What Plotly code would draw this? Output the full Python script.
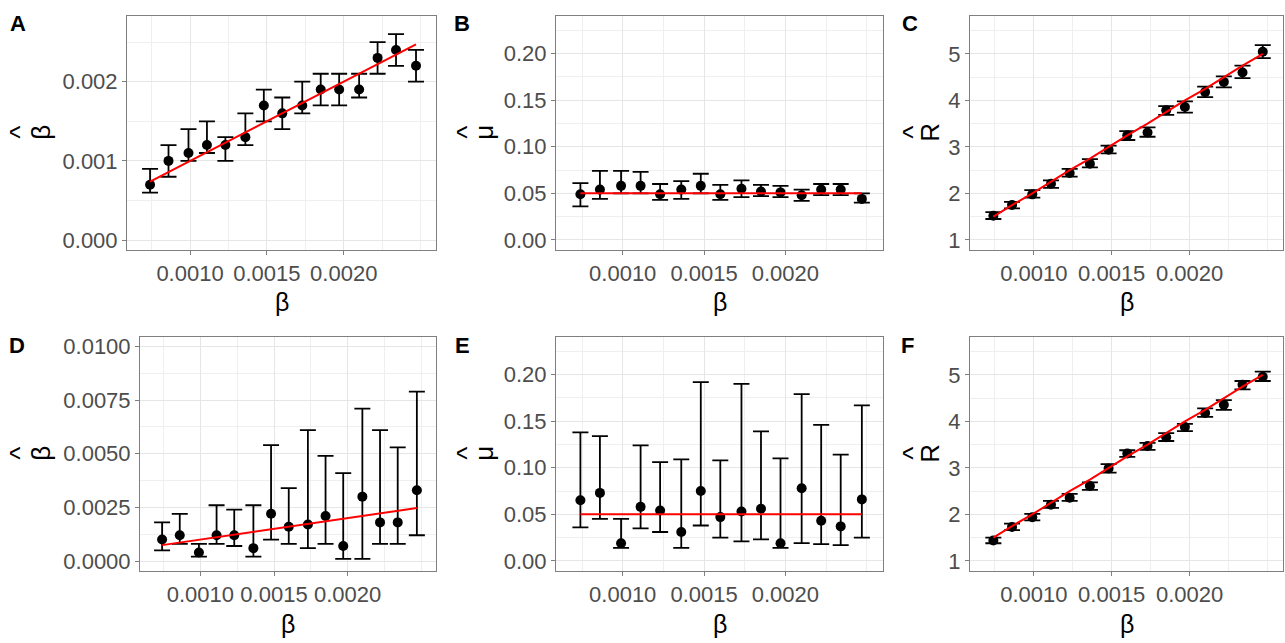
import plotly.graph_objects as go

# True transmission rates used for every simulation set
beta = [0.00074, 0.00086, 0.00099, 0.00111, 0.00123, 0.00136, 0.00148, 0.00160,
        0.00173, 0.00185, 0.00197, 0.00210, 0.00222, 0.00234, 0.00247]
# True reproduction numbers and true mu
R_true = [1.50, 1.75, 2.00, 2.25, 2.50, 2.75, 3.00, 3.25, 3.50, 3.75, 4.00,
          4.25, 4.50, 4.75, 5.00]
mu_true = [0.05] * 15

# Row 1 estimates (point, lower, upper)
A_est = [0.0007, 0.0010, 0.0011, 0.0012, 0.0012, 0.0013, 0.0017, 0.0016,
         0.0017, 0.0019, 0.0019, 0.0019, 0.0023, 0.0024, 0.0022]
A_lo = [0.0006, 0.0008, 0.0010, 0.0011, 0.0010, 0.0012, 0.0015, 0.0014,
        0.0016, 0.0017, 0.0017, 0.0018, 0.0021, 0.0022, 0.0020]
A_hi = [0.0009, 0.0012, 0.0014, 0.0015, 0.0013, 0.0016, 0.0019, 0.0018,
        0.0020, 0.0021, 0.0021, 0.0021, 0.0025, 0.0026, 0.0024]

B_est = [0.049, 0.054, 0.058, 0.058, 0.049, 0.054, 0.058, 0.049,
         0.055, 0.052, 0.051, 0.048, 0.054, 0.054, 0.044]
B_lo = [0.036, 0.044, 0.050, 0.050, 0.043, 0.044, 0.050, 0.043,
        0.046, 0.047, 0.046, 0.042, 0.048, 0.048, 0.040]
B_hi = [0.061, 0.074, 0.074, 0.073, 0.060, 0.063, 0.071, 0.059,
        0.064, 0.059, 0.058, 0.054, 0.060, 0.060, 0.050]

C_est = [1.52, 1.75, 1.98, 2.21, 2.44, 2.64, 2.94, 3.25, 3.31, 3.79,
         3.86, 4.18, 4.40, 4.60, 5.05]
C_lo = [1.45, 1.68, 1.91, 2.12, 2.36, 2.56, 2.86, 3.15, 3.22, 3.69,
        3.74, 4.07, 4.28, 4.48, 4.91]
C_hi = [1.60, 1.82, 2.07, 2.28, 2.53, 2.74, 3.03, 3.34, 3.42, 3.88,
        3.98, 4.30, 4.52, 4.75, 5.19]

# Row 2 estimates (point, lower, upper)
D_est = [0.0010, 0.0012, 0.0004, 0.0012, 0.0012, 0.0006, 0.0022, 0.0016,
         0.0017, 0.0021, 0.0007, 0.0030, 0.0018, 0.0018, 0.0033]
D_lo = [0.0005, 0.0008, 0.0002, 0.0008, 0.0007, 0.0002, 0.0010, 0.0008,
        0.0006, 0.0008, 0.0001, 0.0001, 0.0008, 0.0008, 0.0012]
D_hi = [0.0018, 0.0022, 0.0008, 0.0026, 0.0024, 0.0026, 0.0054, 0.0034,
        0.0061, 0.0049, 0.0041, 0.0071, 0.0061, 0.0053, 0.0079]

E_est = [0.065, 0.073, 0.019, 0.058, 0.054, 0.031, 0.075, 0.047,
         0.053, 0.056, 0.019, 0.078, 0.043, 0.037, 0.066]
E_lo = [0.036, 0.045, 0.014, 0.035, 0.031, 0.014, 0.038, 0.025,
        0.021, 0.023, 0.014, 0.019, 0.018, 0.017, 0.025]
E_hi = [0.138, 0.134, 0.045, 0.124, 0.106, 0.109, 0.192, 0.108,
        0.190, 0.139, 0.110, 0.179, 0.146, 0.114, 0.167]

F_est = [1.44, 1.73, 1.94, 2.21, 2.36, 2.61, 2.99, 3.31, 3.47, 3.66,
         3.88, 4.18, 4.36, 4.79, 4.96]
F_lo = [1.38, 1.66, 1.87, 2.14, 2.29, 2.53, 2.90, 3.24, 3.39, 3.58,
        3.79, 4.10, 4.25, 4.69, 4.87]
F_hi = [1.50, 1.80, 2.01, 2.29, 2.44, 2.69, 3.08, 3.38, 3.54, 3.75,
        3.95, 4.28, 4.46, 4.87, 5.07]

W, H = 1285, 643

def px(x):
    return x / W

def py(y):
    return 1 - y / H

panels = [
    # label, est, lo, hi, truth, x-domain px, y-domain px, y-range, y ticks, fmt,
    # minor y ticks, y-title letter, letter x px, hat x px
    ("A", A_est, A_lo, A_hi, beta, (127, 436), (13, 249), [-0.00012, 0.00283],
     [0.0, 0.001, 0.002], ".3f", [0.0005, 0.0015, 0.0025], "β", 41, 20),
    ("B", B_est, B_lo, B_hi, mu_true, (556, 883), (13, 249), [-0.0105, 0.2405],
     [0.0, 0.05, 0.10, 0.15, 0.20], ".2f", [0.025, 0.075, 0.125, 0.175, 0.225], "μ", 484, 467),
    ("C", C_est, C_lo, C_hi, R_true, (970, 1283), (13, 249), [0.79, 5.82],
     [1, 2, 3, 4, 5], "d", [1.5, 2.5, 3.5, 4.5, 5.5], "R", 930, 913),
    ("D", D_est, D_lo, D_hi, beta, (140, 436), (337, 573), [-0.00045, 0.01045],
     [0.0, 0.0025, 0.005, 0.0075, 0.01], ".4f", [0.00125, 0.00375, 0.00625, 0.00875], "β", 41, 20),
    ("E", E_est, E_lo, E_hi, mu_true, (556, 883), (337, 573), [-0.0105, 0.2405],
     [0.0, 0.05, 0.10, 0.15, 0.20], ".2f", [0.025, 0.075, 0.125, 0.175, 0.225], "μ", 484, 467),
    ("F", F_est, F_lo, F_hi, R_true, (970, 1283), (337, 573), [0.79, 5.82],
     [1, 2, 3, 4, 5], "d", [1.5, 2.5, 3.5, 4.5, 5.5], "R", 930, 913),
]

label_pos = {"A": (18, 21), "B": (462, 21), "C": (910, 21),
             "D": (17, 346), "E": (462, 346), "F": (907, 346)}

FONT = "Liberation Sans, Arial, sans-serif"
TICK_GREY = "#4D4D4D"
BORDER = "#7F7F7F"
GRID = "#E6E6E6"
GRID_MINOR = "#EFEFEF"

x_ticks = [0.0010, 0.0015, 0.0020]
x_minor = [0.00075, 0.00125, 0.00175, 0.00225, 0.0025]

fig = go.Figure()
layout = {}
annotations = []

for i, (lab, est, lo, hi, truth, xd, yd, yr, yt, fmt, ymin_t, ylet, let_x, hat_x) in enumerate(panels):
    n = "" if i == 0 else str(i + 1)
    xa, ya = "x" + n, "y" + n

    fig.add_trace(go.Scatter(
        x=beta, y=est, xaxis=xa, yaxis=ya, mode="markers",
        marker=dict(color="black", size=10),
        error_y=dict(type="data", symmetric=False,
                     array=[h - e for h, e in zip(hi, est)],
                     arrayminus=[e - l for e, l in zip(est, lo)],
                     color="black", thickness=1.8, width=8),
        showlegend=False, hoverinfo="skip"))
    fig.add_trace(go.Scatter(
        x=beta, y=truth, xaxis=xa, yaxis=ya, mode="lines",
        line=dict(color="#FF0000", width=2), showlegend=False, hoverinfo="skip"))

    common = dict(showline=True, linecolor=BORDER, linewidth=1, mirror=True,
                  ticks="outside", ticklen=4, tickcolor=BORDER, tickwidth=1,
                  showgrid=True, gridcolor=GRID, gridwidth=1.2, zeroline=False,
                  tickfont=dict(family=FONT, size=22, color=TICK_GREY),
                  tickangle=0)
    layout["xaxis" + n] = dict(
        domain=[px(xd[0]), px(xd[1])], anchor=ya, range=[0.00059, 0.0026],
        tickvals=x_ticks, tickformat=".4f",
        minor=dict(tickvals=x_minor, showgrid=True, gridcolor=GRID_MINOR,
                   gridwidth=0.8, ticks=""),
        **common)
    layout["yaxis" + n] = dict(
        domain=[py(yd[1]), py(yd[0])], anchor=xa, range=yr,
        tickvals=yt, tickformat=fmt,
        minor=dict(tickvals=ymin_t, showgrid=True, gridcolor=GRID_MINOR,
                   gridwidth=0.8, ticks=""),
        **common)

    lx, ly = label_pos[lab]
    annotations.append(dict(text="<b>" + lab + "</b>", x=px(lx), y=py(ly),
                            xref="paper", yref="paper", showarrow=False,
                            xanchor="center", yanchor="middle",
                            font=dict(family=FONT, size=22, color="black")))
    # y-axis title: letter with a circumflex hat, rotated
    ymid = py((yd[0] + yd[1]) / 2)
    annotations.append(dict(text=ylet, x=px(let_x), y=ymid,
                            xref="paper", yref="paper", showarrow=False,
                            textangle=-90, xanchor="center", yanchor="middle",
                            font=dict(family=FONT, size=26, color="black")))
    annotations.append(dict(text="^", x=px(hat_x), y=ymid,
                            xref="paper", yref="paper", showarrow=False,
                            textangle=-90, xanchor="center", yanchor="middle",
                            font=dict(family=FONT, size=28, color="black")))
    xt_y = 302 if yd[0] < 100 else 627
    annotations.append(dict(text="β", x=px((xd[0] + xd[1]) / 2), y=py(xt_y),
                            xref="paper", yref="paper", showarrow=False,
                            xanchor="center", yanchor="middle",
                            font=dict(family=FONT, size=25, color="black")))

fig.update_layout(
    width=W, height=H, margin=dict(l=0, r=0, t=0, b=0),
    paper_bgcolor="white", plot_bgcolor="white",
    annotations=annotations, **layout)

fig.write_html("out.html")
